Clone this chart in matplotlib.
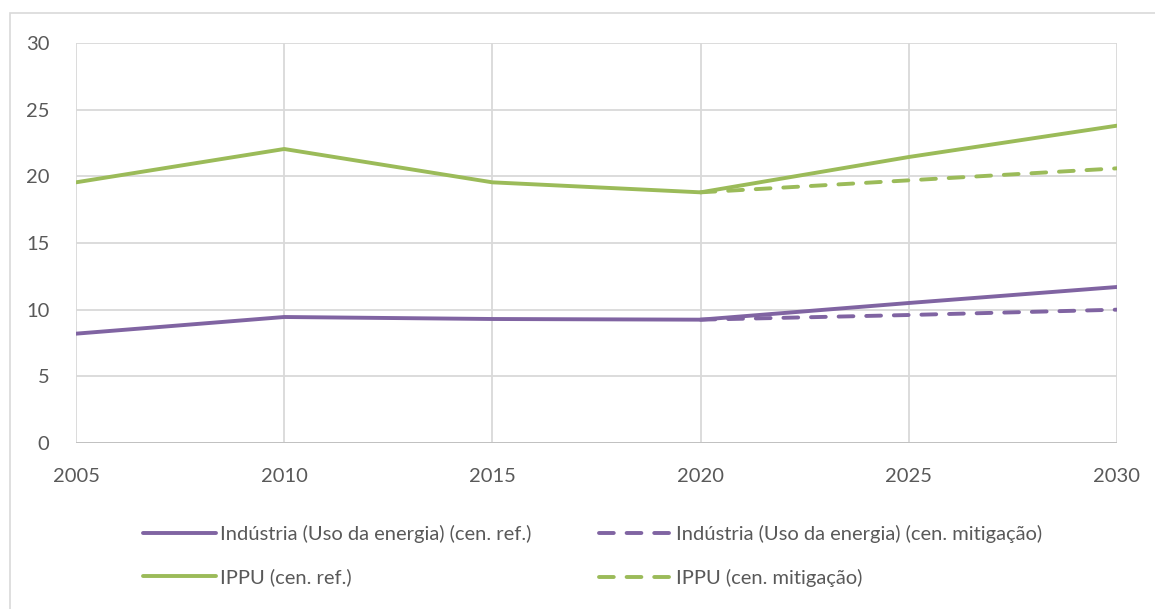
import matplotlib
matplotlib.use("Agg")
import matplotlib.pyplot as plt
from matplotlib.patches import Rectangle

anos = [2005, 2010, 2015, 2020, 2025, 2030]
anos_mit = [2020, 2025, 2030]
industria_ref = [8.2, 9.45, 9.3, 9.25, 10.5, 11.7]
industria_mit = [9.25, 9.6, 10.0]
ippu_ref = [19.55, 22.05, 19.55, 18.8, 21.45, 23.8]
ippu_mit = [18.8, 19.7, 20.6]

ROXO = "#8064A2"
VERDE = "#9BBB59"
GRADE = "#D9D9D9"
TEXTO = "#595959"

plt.rcParams["font.family"] = ["Lato", "DejaVu Sans"]

fig = plt.figure(figsize=(11.55, 6.09), dpi=100)
ax = fig.add_axes([76 / 1155, 1 - 443 / 609, (1117 - 76) / 1155, 400 / 609])

# moldura do gráfico
fig.patches.append(Rectangle((10 / 1155, -0.2), 1.2, 1.2 - 13 / 609, transform=fig.transFigure,
                             fill=False, edgecolor=GRADE, lw=1.2, zorder=0))

l1, = ax.plot(anos, industria_ref, color=ROXO, lw=2.8, label="Indústria (Uso da energia) (cen. ref.)")
l2, = ax.plot(anos_mit, industria_mit, color=ROXO, lw=2.8, dashes=(3.8, 3.3),
              label="Indústria (Uso da energia) (cen. mitigação)")
l3, = ax.plot(anos, ippu_ref, color=VERDE, lw=2.8, label="IPPU (cen. ref.)")
l4, = ax.plot(anos_mit, ippu_mit, color=VERDE, lw=2.8, dashes=(3.8, 3.3), label="IPPU (cen. mitigação)")
for l in (l1, l2, l3, l4):
    l.set_solid_capstyle("round"); l.set_dash_capstyle("round")

ax.set_xlim(2005, 2030)
ax.set_ylim(0, 30)
ax.set_xticks(anos)
ax.set_yticks(range(0, 31, 5))
ax.grid(True, color=GRADE, lw=1.3)
ax.set_axisbelow(True)
for s in ax.spines.values():
    s.set_visible(False)
ax.axhline(0, color="#BFBFBF", lw=1.3, zorder=1)
ax.tick_params(length=0, labelsize=14.5, colors=TEXTO)
ax.tick_params(axis="x", pad=18)
ax.tick_params(axis="y", pad=19)

fig.legend([l1, l3, l2, l4], [l.get_label() for l in (l1, l3, l2, l4)], ncol=2,
           loc="upper left", bbox_to_anchor=(143 / 1155, 1 - 525 / 609), frameon=False,
           borderpad=0, borderaxespad=0, handlelength=3.6, handletextpad=0.2,
           labelspacing=1.27, columnspacing=3.4, fontsize=14.5, labelcolor=TEXTO)

fig.savefig("out.png", dpi=100)
